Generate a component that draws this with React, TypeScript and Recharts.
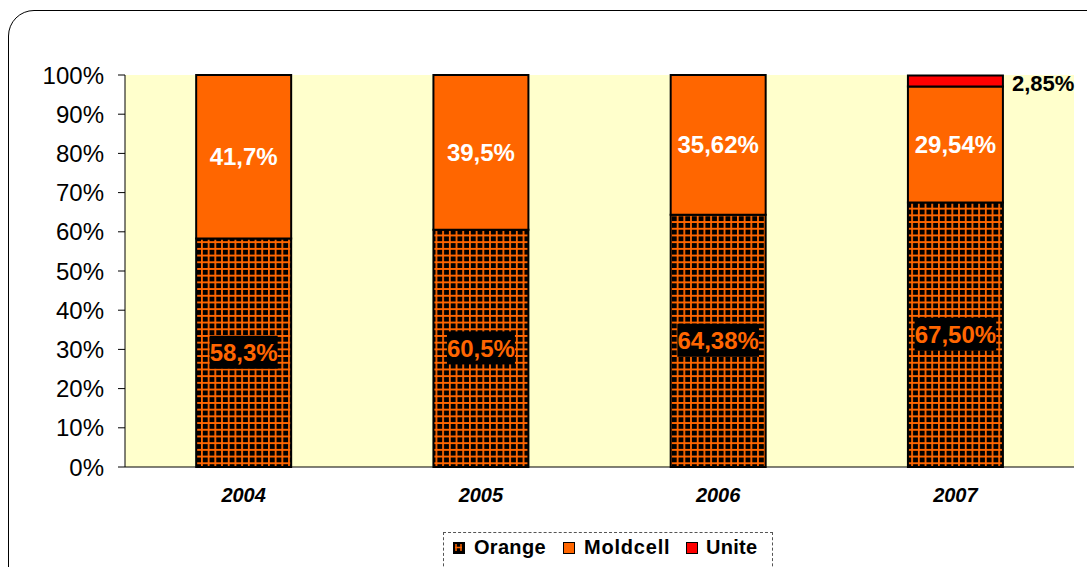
import { Bar, BarChart, CartesianGrid, LabelList, XAxis, YAxis } from "recharts";

const years = ["2004", "2005", "2006", "2007"];
const orangeShare = [58.3, 60.5, 64.38, 67.5];
const moldcellShare = [41.7, 39.5, 35.62, 29.54];
const uniteShare = [0, 0, 0, 2.85];
const orangeLabels = ["58,3%", "60,5%", "64,38%", "67,50%"];
const moldcellLabels = ["41,7%", "39,5%", "35,62%", "29,54%"];
const uniteLabels = ["", "", "", "2,85%"];
const yTicks = [0, 10, 20, 30, 40, 50, 60, 70, 80, 90, 100];

const data = years.map((year, i) => ({
  year,
  orange: orangeShare[i],
  moldcell: moldcellShare[i],
  unite: uniteShare[i],
  orangeLabel: orangeLabels[i],
  moldcellLabel: moldcellLabels[i],
  uniteLabel: uniteLabels[i],
}));

const FONT = "'Liberation Sans', Arial, sans-serif";

function OrangeLabel(props: any) {
  const { x, y, width, height, value } = props;
  if (!value) return null;
  const cx = x + width / 2;
  const cy = y + height / 2;
  const w = String(value).length * 13.6 + 0;
  return (
    <g>
      <rect x={cx - w / 2} y={cy - 17} width={w} height={33} fill="#000" />
      <text
        x={cx}
        y={cy}
        textAnchor="middle"
        dominantBaseline="central"
        fill="#FF6600"
        fontSize={24}
        fontWeight="bold"
        fontFamily={FONT}
      >
        {value}
      </text>
    </g>
  );
}

function UniteLabel(props: any) {
  const { x, y, width, height, value } = props;
  if (!value) return null;
  return (
    <text
      x={x + width + 9}
      y={y + height / 2 + 2}
      dominantBaseline="central"
      fill="#000"
      fontSize={22}
      fontWeight="bold"
      fontFamily={FONT}
    >
      {value}
    </text>
  );
}

const legendItems = [
  { name: "Orange", fill: "url(#orangeGridIcon)", icon: 9, text: 30 },
  { name: "Moldcell", fill: "#FF6600", icon: 119, text: 140 },
  { name: "Unite", fill: "#FF0000", icon: 242, text: 262 },
];

function LegendBox() {
  return (
    <div
      style={{
        position: "absolute",
        left: 443,
        top: 532,
        width: 330,
        height: 50,
        border: "1px dashed #555",
        boxSizing: "border-box",
        fontFamily: FONT,
        fontWeight: "bold",
        fontSize: 20,
        color: "#000",
      }}
    >
      <svg width={0} height={0} style={{ position: "absolute" }}>
        <defs>
          <pattern id="orangeGridIcon" width={11} height={11} patternUnits="userSpaceOnUse">
            <rect width={11} height={11} fill="#000" />
            <path d="M2 5.5 H9 M3 2 V9 M8 2 V9" stroke="#FF6600" strokeWidth={1.5} />
          </pattern>
        </defs>
      </svg>
      {legendItems.map((it) => (
        <div key={it.name}>
          <svg
            width={12}
            height={12}
            style={{ position: "absolute", left: it.icon, top: 9 }}
          >
            <rect x={0.5} y={0.5} width={11} height={11} fill={it.fill} stroke="#000" />
          </svg>
          <span
            style={{
              position: "absolute",
              left: it.text,
              top: 2,
              lineHeight: "24px",
              letterSpacing: it.name === "Moldcell" ? 0.8 : 0.3,
            }}
          >
            {it.name}
          </span>
        </div>
      ))}
    </div>
  );
}

export default function App() {
  return (
    <div
      style={{
        position: "fixed",
        left: 0,
        top: 0,
        width: 1087,
        height: 567,
        overflow: "hidden",
        background: "#fff",
      }}
    >
      <div
        style={{
          position: "absolute",
          left: 8,
          top: 10,
          width: 1120,
          height: 620,
          border: "1.5px solid #000",
          borderRadius: 26,
        }}
      />
      <div style={{ position: "absolute", left: 0, top: 0 }}>
        <BarChart
          width={1087}
          height={567}
          data={data}
          margin={{ top: 75, right: 13, bottom: 70, left: 0 }}
          barCategoryGap="30%"
        >
          <defs>
            <pattern id="orangeGrid" width={6.7} height={6.7} patternUnits="userSpaceOnUse">
              <rect width={6.7} height={6.7} fill="#000" />
              <path d="M0 0.9 H6.7 M0.9 0 V6.7" stroke="#FF6600" strokeWidth={1.8} />
            </pattern>
          </defs>
          <CartesianGrid horizontal={false} vertical={false} fill="#FFFFCC" stroke="none" />
          <XAxis
            dataKey="year"
            height={30}
            axisLine={{ stroke: "#000", strokeWidth: 1 }}
            tickLine={false}
            tickSize={0}
            tickMargin={21}
            tick={{ fill: "#000", fontSize: 20, fontWeight: "bold", fontStyle: "italic", fontFamily: FONT }}
          />
          <YAxis
            width={125}
            domain={[0, 100]}
            ticks={yTicks}
            interval={0}
            tickFormatter={(v) => `${v}%`}
            axisLine={{ stroke: "#000", strokeWidth: 1 }}
            tickLine={{ stroke: "#000" }}
            tickSize={7}
            tickMargin={14}
            tick={{ fill: "#000", fontSize: 24, fontFamily: FONT }}
          />
          <Bar
            dataKey="orange"
            name="Orange"
            stackId="a"
            fill="url(#orangeGrid)"
            stroke="#000"
            strokeWidth={2}
            isAnimationActive={false}
          >
            <LabelList dataKey="orangeLabel" content={OrangeLabel} />
          </Bar>
          <Bar
            dataKey="moldcell"
            name="Moldcell"
            stackId="a"
            fill="#FF6600"
            stroke="#000"
            strokeWidth={2}
            isAnimationActive={false}
          >
            <LabelList
              dataKey="moldcellLabel"
              position="center"
              fill="#FFFFFF"
              fontSize={24}
              fontWeight="bold"
              fontFamily={FONT}
            />
          </Bar>
          <Bar
            dataKey="unite"
            name="Unite"
            stackId="a"
            fill="#FF0000"
            stroke="#000"
            strokeWidth={2}
            isAnimationActive={false}
          >
            <LabelList dataKey="uniteLabel" content={UniteLabel} />
          </Bar>
        </BarChart>
      </div>
      <LegendBox />
    </div>
  );
}
